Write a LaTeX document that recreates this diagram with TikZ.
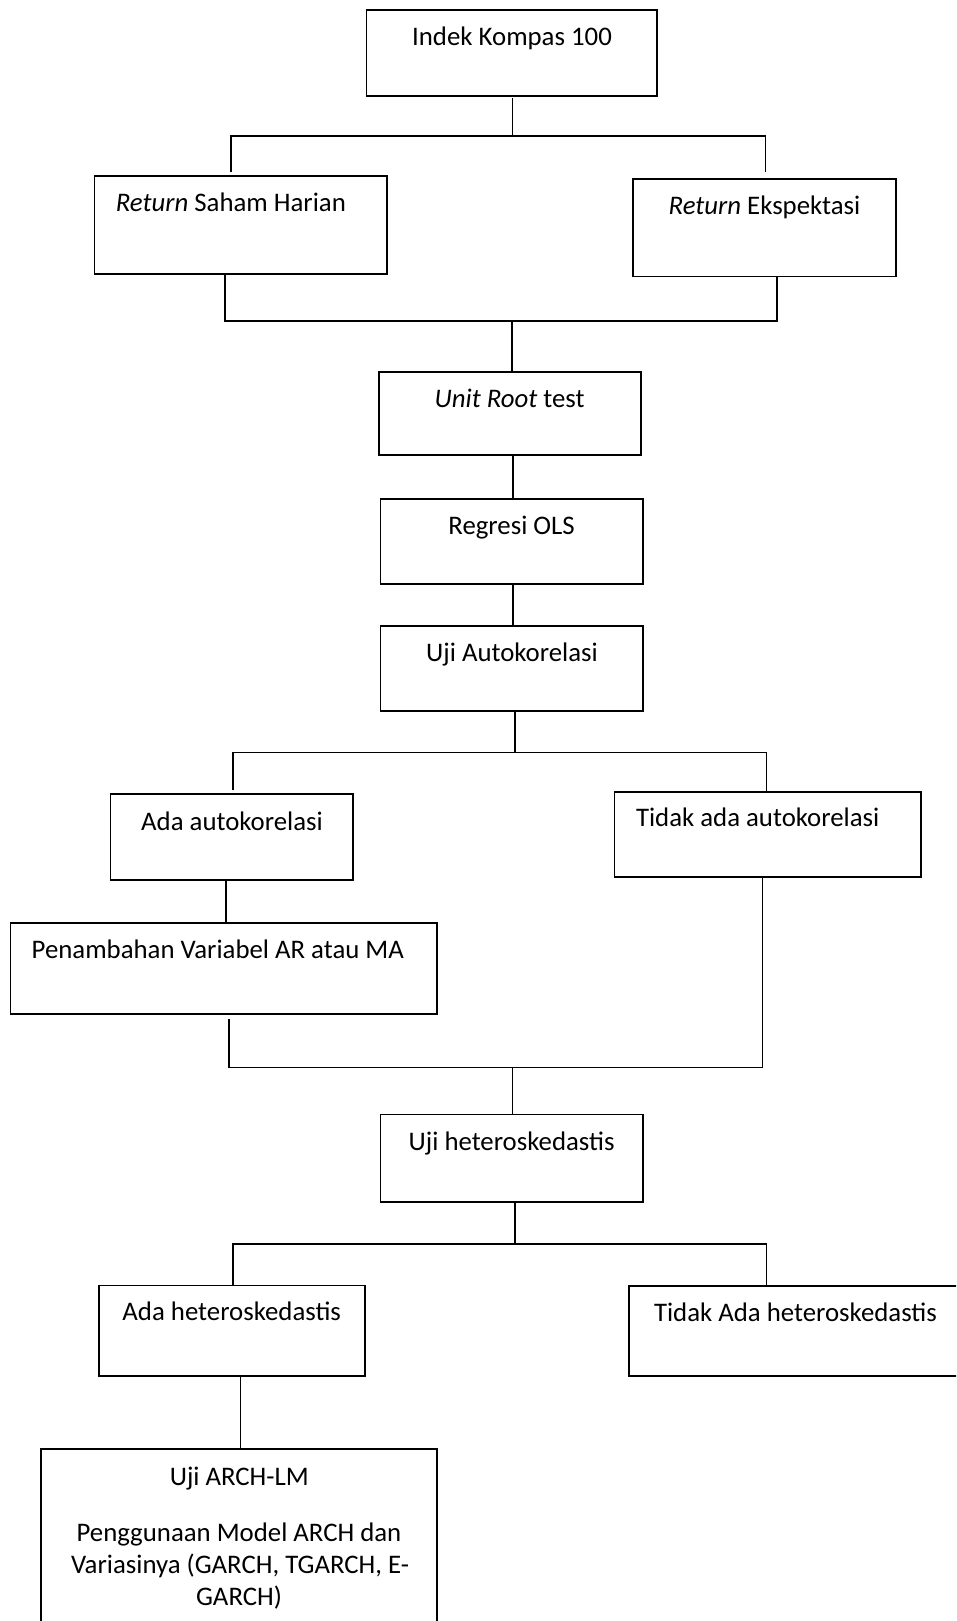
\documentclass[tikz,border=0pt]{standalone}
\usepackage{fontspec}
\setmainfont{Carlito}
\begin{document}
\begin{tikzpicture}[x=1pt,y=-1pt,
  box/.style={draw=black,line width=1.6pt,inner sep=0pt,outer sep=0pt,anchor=north west},
  conn/.style={draw=black,line width=1.1pt},
  txt/.style={inner sep=0pt,outer sep=0pt,font=\fontsize{26.8}{32.2}\selectfont}]
\clip (0,0) rectangle (956,1621);
\fill[white] (0,0) rectangle (956,1621);
% boxes
\node[box,minimum width=290.2pt,minimum height=86.3pt] (indek) at (366.5,10) {};
\node[box,minimum width=292.5pt,minimum height=97.7pt] (rsh) at (94.5,176) {};
\node[box,minimum width=262.7pt,minimum height=97.3pt] (rek) at (633,179) {};
\node[box,minimum width=262.2pt,minimum height=83pt] (unit) at (378.7,371.7) {};
\node[box,minimum width=262.5pt,minimum height=85.3pt] (ols) at (380.5,498.7) {};
\node[box,minimum width=262.5pt,minimum height=85.3pt] (auto) at (380.5,625.7) {};
\node[box,minimum width=242.6pt,minimum height=85.7pt] (ada) at (110.4,794) {};
\node[box,minimum width=306.1pt,minimum height=85pt] (tidak) at (614.6,791.7) {};
\node[box,minimum width=426.6pt,minimum height=91pt] (pen) at (10.4,923) {};
\node[box,minimum width=262.5pt,minimum height=87.4pt] (het) at (380.5,1114.3) {};
\node[box,minimum width=266.2pt,minimum height=90.4pt] (adahet) at (98.8,1285.3) {};
\node[box,minimum width=400pt,minimum height=89.7pt] (tdkhet) at (628.7,1286) {};
\node[box,minimum width=396.1pt,minimum height=250pt] (arch) at (40.9,1449) {};
% texts
\node[txt,anchor=base] (t1) at (512,46) {Indek Kompas 100};
\node[txt,anchor=base west] (t2) at (115.9,211.7) {\textit{Return} Saham Harian};
\node[txt,anchor=base] (t3) at (764.5,215) {\textit{Return} Ekspektasi};
\node[txt,anchor=base] (t4) at (509.6,407.3) {\textit{Unit Root} test};
\node[txt,anchor=base] (t5) at (511.6,534) {Regresi OLS};
\node[txt,anchor=base] (t6) at (512,661.7) {Uji Autokorelasi};
\node[txt,anchor=base] (t7) at (232,830.7) {Ada autokorelasi};
\node[txt,anchor=base west] (t8) at (636,826.7) {Tidak ada autokorelasi};
\node[txt,anchor=base west] (t9) at (31.7,958.7) {Penambahan Variabel AR atau MA};
\node[txt,anchor=base] (t10) at (511.6,1150) {Uji heteroskedastis};
\node[txt,anchor=base] (t11) at (231.7,1320.7) {Ada heteroskedastis};
\node[txt,anchor=base west] (t12) at (654,1321) {Tidak Ada heteroskedastis};
\node[txt,anchor=base] (t13) at (239.3,1485) {Uji ARCH-LM};
\node[txt,anchor=base] (t14) at (239,1541) {Penggunaan Model ARCH dan};
\node[txt,anchor=base] (t15) at (240,1573.3) {Variasinya (GARCH, TGARCH, E-};
\node[txt,anchor=base] (t16) at (239,1605) {GARCH)};
% junction coordinates
\coordinate (b1) at (512.8,136);
\coordinate (b1l) at (231,136);
\coordinate (b1r) at (765.2,136);
\coordinate (b2) at (512,321);
\coordinate (b2l) at (225,321);
\coordinate (b2r) at (777,321);
\coordinate (b3) at (515,752.3);
\coordinate (b3l) at (233,752.3);
\coordinate (b3r) at (766.5,752.3);
\coordinate (b4) at (512.8,1067.7);
\coordinate (b4l) at (229,1067.7);
\coordinate (b4r) at (762.8,1067.7);
\coordinate (b5) at (515,1244);
\coordinate (b5l) at (233,1244);
\coordinate (b5r) at (766.5,1244);
\coordinate (x6) at (226,0);
\coordinate (x9) at (240.9,0);
\coordinate (x3) at (513,0);
% connectors
\draw[conn] (indek.south -| b1) ++(0,2) -- (b1);
\draw[conn] (b1l |- rsh.north) ++(0,-4) -- (b1l) -- (b1r) -- ++(0,36);
\draw[conn] (rsh.south -| b2l) -- (b2l) -- (b2r) -- (rek.south -| b2r);
\draw[conn] (b2) -- (unit.north -| b2);
\draw[conn] (unit.south -| x3) -- (ols.north -| x3);
\draw[conn] (ols.south -| x3) -- (auto.north -| x3);
\draw[conn] (auto.south -| b3) -- (b3);
\draw[conn] (ada.north -| b3l) ++(0,-4) -- (b3l) -- (b3r) -- (tidak.north -| b3r);
\draw[conn] (ada.south -| x6) -- (pen.north -| x6);
\draw[conn] (pen.south -| b4l) ++(0,5) -- (b4l) -- (b4r) -- (tidak.south -| b4r);
\draw[conn] (b4) -- (het.north -| b4);
\draw[conn] (het.south -| b5) -- (b5);
\draw[conn] (adahet.north -| b5l) -- (b5l) -- (b5r) -- (tdkhet.north -| b5r);
\draw[conn] (adahet.south -| x9) -- (arch.north -| x9);
\end{tikzpicture}
\end{document}
